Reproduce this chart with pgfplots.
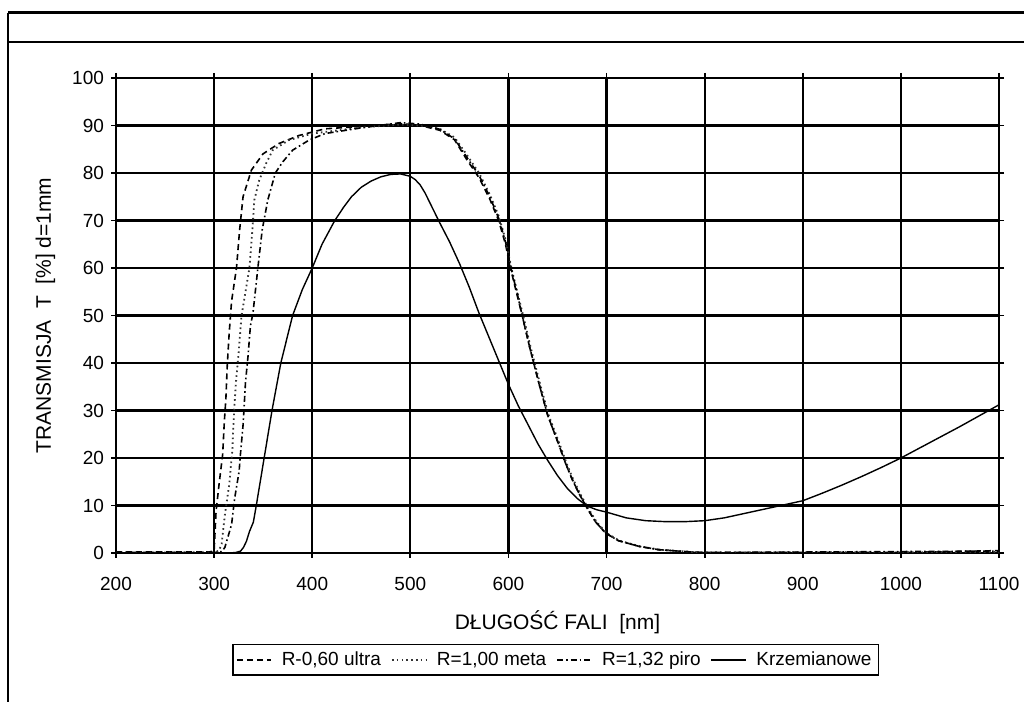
\documentclass[border=0pt]{standalone}
\usepackage{fontspec}
\setmainfont{Liberation Sans}
\usepackage{pgfplots}
\pgfplotsset{compat=1.18}

\pgfplotstableread{
x y
200 0.2
250 0.2
295 0.2
300 0.5
302 8.8
305 14.4
308.7 20.7
310.4 27.6
312 32.5
313.4 39.5
315.4 46.4
317.8 53
322.8 60
326 68
329.5 75
338 80.6
349.7 84
366 86.2
386.6 87.9
413 89.3
450 89.8
490 90.4
510 90
530 89
545 87
557 83
570 79
581 74.5
590 70
597 65
602 60
608 55
614 50
622 43
632 35
640 29
651 23
658 19
665 15.5
672 12.5
680 9.5
689 6.5
699 4.2
712 2.6
733 1.4
753 0.7
787 0.2
800 0.1
900 0.1
1000 0.1
1050 0.3
1100 0.5
}\ultra

\pgfplotstableread{
x y
200 0.1
300 0.1
305 0.5
307.7 1.9
311 8.1
315.4 14.4
318.5 21.4
320 28.3
322 35.3
325 42.2
327.9 49.9
336 60
339 68
341 74.3
346 78.5
353 82
359.7 84.8
376 86.9
400 88.3
450 89.6
490 90.2
510 90
530 89.3
545 87.5
557 84
570 80
581 75.5
590 71
597 66
603 60
609 55
615 50
623 43
633 35
641 29
652 23
659 19
666 15.5
673 12.5
681 9.5
690 6.5
700 4.2
713 2.6
734 1.4
754 0.7
788 0.2
800 0.1
1100 0.2
}\meta

\pgfplotstableread{
x y
200 0.1
300 0.1
308 0.3
311 1.2
317.8 6
321 11.6
325.5 17.2
326.8 20.7
329.5 26.9
330.5 30.4
332 36
334.6 41.5
337 47.8
339.6 50.5
344.6 60
349 68
354.7 74.3
362.4 80
369.8 82.3
380 84.8
396.6 86.9
413 88.3
450 89.5
490 90.6
510 90.3
530 89.2
545 87.2
557 83.5
570 79.5
581 75
590 70.5
597 65.5
602.5 60
608.5 55
614 50
622 43
632 35
640 29
651 23
658 19
665 15.5
672 12.5
680 9.5
689 6.5
699 4.2
712 2.6
733 1.4
753 0.7
787 0.2
800 0.1
1100 0.4
}\piro

\pgfplotstableread{
x y
200 0
315 0
322 0.1
327 0.4
330 1.2
333 2.5
336 4.5
340 6.5
343 10
347 15
351 20
355 25
359 30
363.5 35
368 40
374 45
380 50
390 55.5
400 60
410 65
423 70
432 72.8
440 75
450 77
460 78.3
470 79.2
480 79.7
490 79.8
500 79.3
505 78.6
510 77.5
515 75.8
520 73.7
530 69.5
540 65.5
550 61
560 56
570 50.5
580 45.5
590 40.5
600 35.5
610 31
620 27
630 23
640 19.5
650 16.3
660 13.6
670 11.5
680 9.9
690 9.1
700 8.6
720 7.4
740 6.8
760 6.6
780 6.6
800 6.8
820 7.4
840 8.3
860 9.2
880 10.1
900 11
920 12.6
940 14.3
960 16.1
980 18
1000 20
1020 22.2
1040 24.4
1060 26.6
1080 28.9
1100 31.2
}\krzem

\begin{document}
\begin{tikzpicture}
\useasboundingbox (0,0) rectangle (512pt,351pt);
% ramka skanu
\draw[line width=1.5pt] (4pt,344.6pt) -- (512pt,344.6pt);
\draw[line width=1.1pt] (4pt,330pt) -- (512pt,330pt);
\draw[line width=1.1pt] (4pt,0pt) -- (4pt,344.6pt);
\begin{axis}[
    at={(58pt,74.5pt)}, anchor=south west,
    scale only axis, width=441.5pt, height=237.5pt,
    xmin=200, xmax=1100, ymin=0, ymax=100,
    xtick={200,300,...,1100}, ytick={0,10,...,100},
    grid=major, grid style={line width=1.1pt, black},
    axis line style={line width=1.1pt},
    tick align=center, major tick length=5pt,
    tick style={line width=0.9pt, black},
    /pgf/number format/assume math mode=true,
    /pgf/number format/1000 sep={},
    ticklabel style={font=\fontsize{9.5}{11}\selectfont},
    xticklabel style={yshift=-6pt},
    xlabel={DŁUGOŚĆ FALI\ \ [nm]},
    ylabel={TRANSMISJA\ \ T\ \ [\%] d=1mm},
    label style={font=\fontsize{10.5}{12}\selectfont},
    xlabel style={at={(axis description cs:0.5,-0.145)}, anchor=center},
    ylabel style={at={(axis description cs:-0.080,0.5)}, anchor=center},
    legend columns=4,
    legend style={at={(0.498,-0.225)}, anchor=center, draw=black,
        line width=0.8pt, font=\fontsize{9.5}{11}\selectfont,
        inner sep=1.5pt, column sep=3pt},
    legend cell align=left,
]
\addplot[black, line width=0.8pt, dash pattern=on 3pt off 2pt] table {\ultra};
\addlegendentry{R-0,60 ultra}
\addplot[black!80, line width=0.9pt, dash pattern=on 0.8pt off 1.6pt] table {\meta};
\addlegendentry{R=1,00 meta}
\addplot[black, line width=0.8pt, dash pattern=on 3pt off 1.5pt on 0.8pt off 1.5pt] table {\piro};
\addlegendentry{R=1,32 piro}
\addplot[black, line width=0.7pt] table {\krzem};
\addlegendentry{Krzemianowe}
\end{axis}
\end{tikzpicture}
\end{document}
